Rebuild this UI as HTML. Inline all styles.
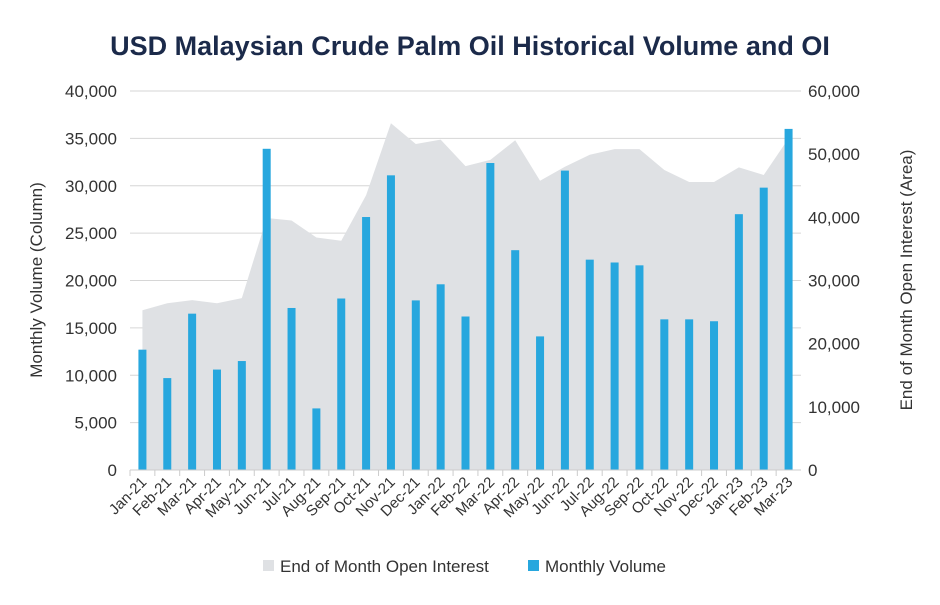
<!DOCTYPE html>
<html><head><meta charset="utf-8"><style>
body{margin:0;background:#fff;width:940px;height:600px;overflow:hidden;font-family:"Liberation Sans",sans-serif}
</style></head><body>
<svg id="chart" width="940" height="600" xmlns="http://www.w3.org/2000/svg">
<text x="470" y="55" text-anchor="middle" font-size="27" font-weight="bold" fill="#1b2a4a">USD Malaysian Crude Palm Oil Historical Volume and OI</text>
<g id="grid"></g><g id="area"></g><g id="bars"></g><g id="axes"></g>
<text transform="translate(42,280) rotate(-90)" text-anchor="middle" font-size="17" fill="#333">Monthly Volume (Column)</text>
<text transform="translate(912,280) rotate(-90)" text-anchor="middle" font-size="17" fill="#333">End of Month Open Interest (Area)</text>
<g>
<rect x="263" y="560" width="11" height="11" fill="#dfe1e4"/>
<text x="280" y="572" font-size="17" fill="#333">End of Month Open Interest</text>
<rect x="528" y="560" width="11" height="11" fill="#27a7de"/>
<text x="545" y="572" font-size="17" fill="#333">Monthly Volume</text>
</g>
</svg>
<script>
const categories=["Jan-21","Feb-21","Mar-21","Apr-21","May-21","Jun-21","Jul-21","Aug-21","Sep-21","Oct-21","Nov-21","Dec-21","Jan-22","Feb-22","Mar-22","Apr-22","May-22","Jun-22","Jul-22","Aug-22","Sep-22","Oct-22","Nov-22","Dec-22","Jan-23","Feb-23","Mar-23"];
const volume=[12700,9700,16500,10600,11500,33900,17100,6500,18100,26700,31100,17900,19600,16200,32400,23200,14100,31600,22200,21900,21600,15900,15900,15700,27000,29800,36000];
const openInterest=[25300,26400,26900,26400,27200,39900,39500,36800,36300,43500,54900,51600,52300,48100,49100,52200,45800,48000,49900,50800,50800,47500,45600,45600,47900,46700,52500];
const leftTicks=[0,5000,10000,15000,20000,25000,30000,35000,40000];
const rightTicks=[0,10000,20000,30000,40000,50000,60000];
const NS="http://www.w3.org/2000/svg";
const X0=130,X1=801,Y0=470,Y1=91;
const step=(X1-X0)/categories.length;
const xc=i=>X0+step*(i+0.5);
const yL=v=>Y0-(v/40000)*(Y0-Y1);
const yR=v=>Y0-(v/60000)*(Y0-Y1);
const fmt=v=>v.toLocaleString("en-US");
function mk(tag,attrs,parent){const e=document.createElementNS(NS,tag);for(const k in attrs)e.setAttribute(k,attrs[k]);document.getElementById(parent).appendChild(e);return e;}
leftTicks.forEach(t=>{
 if(t>0){const g=mk("line",{x1:X0,x2:X1,y1:yL(t),y2:yL(t),stroke:"#d6d6d6","stroke-width":1},"grid");
 
 }
 const l=mk("text",{x:117,y:yL(t)+6,"text-anchor":"end","font-size":17,fill:"#333"},"axes");l.textContent=fmt(t);
 
 
});
rightTicks.forEach(t=>{
 const l=mk("text",{x:808,y:yR(t)+6,"font-size":17,fill:"#333"},"axes");l.textContent=fmt(t);
 
 
});
let d="M"+xc(0)+","+Y0;
openInterest.forEach((v,i)=>{d+=" L"+xc(i)+","+yR(v);});
d+=" L"+xc(openInterest.length-1)+","+Y0+" Z";
const a=mk("path",{d:d,fill:"#dfe1e4"},"area");


volume.forEach((v,i)=>{
 const b=mk("rect",{x:xc(i)-4,y:yL(v),width:8,height:Y0-yL(v),fill:"#27a7de"},"bars");
 
 
});
const ax=mk("line",{x1:X0,x2:X1,y1:Y0,y2:Y0,stroke:"#ccc"},"axes");


categories.forEach((c,i)=>{
 const tk=mk("line",{x1:X0+step*i,x2:X0+step*i,y1:Y0,y2:Y0+6,stroke:"#ccc"},"axes");
 
 
 const t=mk("text",{transform:"translate("+(xc(i)+5)+","+(Y0+13)+") rotate(-45)","text-anchor":"end","font-size":15,fill:"#333"},"axes");
 t.textContent=c;
 
 
});
</script>
</body></html>
